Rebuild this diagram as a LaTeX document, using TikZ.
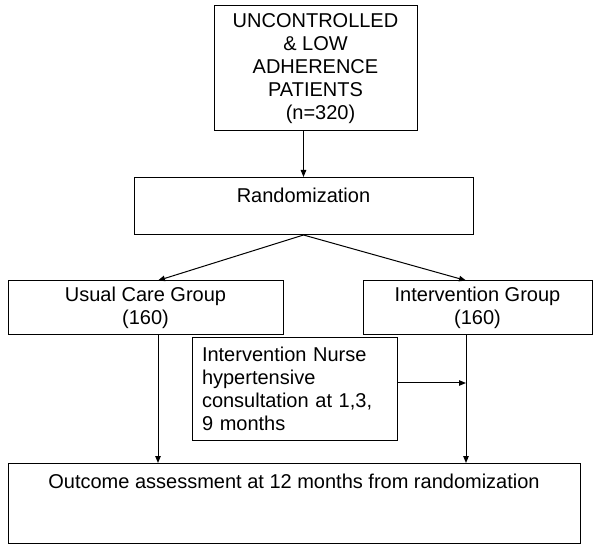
\documentclass[tikz,border=0pt]{standalone}
\usepackage{fontspec}
\setmainfont{Liberation Sans}
\usetikzlibrary{arrows.meta}

\begin{document}
\begin{tikzpicture}[x=1pt,y=-1pt,>={Triangle[length=7pt,width=5.5pt]},line width=1pt,
  box/.style={draw,rectangle,inner sep=0pt,align=center,font=\fontsize{20}{23}\selectfont},
  arr/.style={->}]
  \useasboundingbox (0,0) rectangle (600,553);
  \node[box,minimum width=203pt,minimum height=125pt] (patients) at (315.5,68.5)
    {UNCONTROLLED\\\& LOW\\ADHERENCE\\PATIENTS\\\hspace*{0.5em}(n=320)};
  \node[box,minimum width=339pt,text height=25pt,text depth=32pt,anchor=north] (rand) at (303.5,177) {Randomization};
  \node[box,minimum width=275pt,minimum height=54pt] (usual) at (145.5,308) {Usual Care Group\\(160)};
  \node[box,minimum width=229pt,minimum height=54pt] (interv) at (477.5,308) {Intervention Group\\(160)};
  \node[box,align=left,text width=185pt,inner xsep=10pt,minimum height=102pt] (nurse) at (294.5,389)
    {Intervention Nurse\\hypertensive\\consultation at 1,3,\\9 months};
  \node[box,minimum width=572pt,text height=25pt,text depth=55pt,anchor=north] (outcome) at (294,463)
    {Outcome assessment at 12 months from randomization};
  % columns of the two arms
  \coordinate (ltrack) at (158,0);
  \coordinate (rtrack) at (466,0);
  \coordinate (nurseout) at ([yshift=6pt]nurse.east);
  \draw[arr] (patients.south -| rand.north) -- (rand.north);
  \draw[arr] (rand.south) -- (ltrack |- usual.north);
  \draw[arr] (rand.south) -- (rtrack |- interv.north);
  \draw[arr] (ltrack |- usual.south) -- (ltrack |- outcome.north);
  \draw[arr] (rtrack |- interv.south) -- (rtrack |- outcome.north);
  \draw[arr] (nurseout) -- (rtrack |- nurseout);
\end{tikzpicture}
\end{document}
